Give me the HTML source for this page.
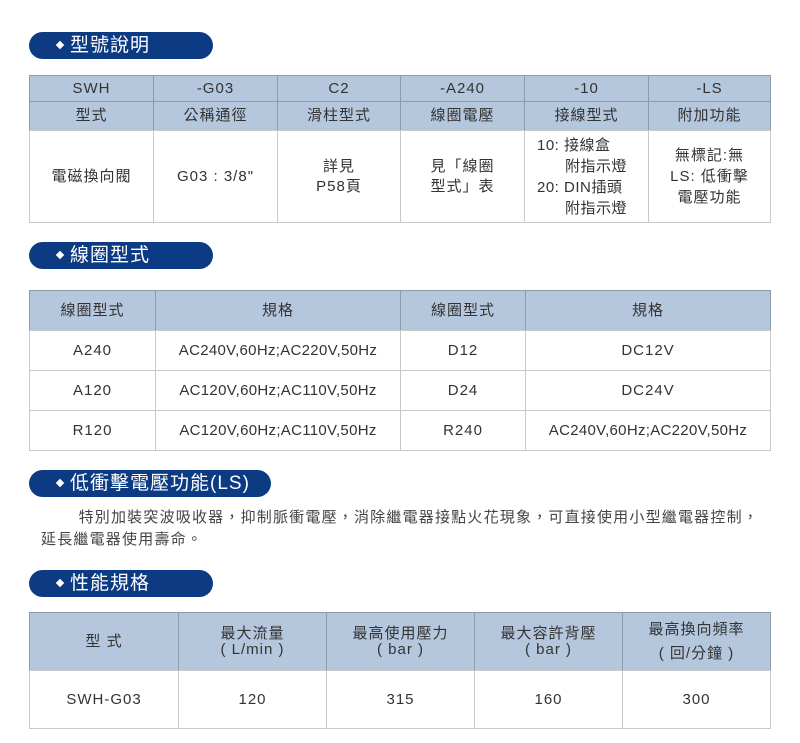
<!DOCTYPE html><html><head><meta charset="utf-8"><style>
body{margin:0;width:800px;height:743px;background:#fff;position:relative;overflow:hidden;font-family:"Liberation Sans","Noto Sans CJK TC",sans-serif;color:#333}
.b{position:absolute;left:29px;height:27px;background:#0c3b83;border-radius:14px;color:#fff;font-size:19px;line-height:27px;padding-left:41px;box-sizing:border-box;letter-spacing:1px}
.b:before{content:"";position:absolute;left:28px;top:10px;width:6px;height:6px;background:#fff;transform:rotate(45deg)}
.c{position:absolute;box-sizing:border-box;border:1px solid #c8c8c8;display:flex;align-items:center;justify-content:center;text-align:center;font-size:15px;line-height:20px;letter-spacing:1px}
.h{background:#b5c7dd;border-color:#8d9aa8}
</style></head><body>
<div class="b" style="top:32px;width:184px">型號說明</div>
<div class="c h" style="left:29px;top:75px;width:125px;height:27px">SWH</div>
<div class="c h" style="left:153px;top:75px;width:125px;height:27px">-G03</div>
<div class="c h" style="left:277px;top:75px;width:124px;height:27px">C2</div>
<div class="c h" style="left:400px;top:75px;width:125px;height:27px">-A240</div>
<div class="c h" style="left:524px;top:75px;width:125px;height:27px">-10</div>
<div class="c h" style="left:648px;top:75px;width:123px;height:27px">-LS</div>
<div class="c h" style="left:29px;top:101px;width:125px;height:30px">型式</div>
<div class="c h" style="left:153px;top:101px;width:125px;height:30px">公稱通徑</div>
<div class="c h" style="left:277px;top:101px;width:124px;height:30px">滑柱型式</div>
<div class="c h" style="left:400px;top:101px;width:125px;height:30px">線圈電壓</div>
<div class="c h" style="left:524px;top:101px;width:125px;height:30px">接線型式</div>
<div class="c h" style="left:648px;top:101px;width:123px;height:30px">附加功能</div>
<div class="c" style="left:29px;top:130px;width:125px;height:93px">電磁換向閥</div>
<div class="c" style="left:153px;top:130px;width:125px;height:93px">G03 : 3/8"</div>
<div class="c" style="left:277px;top:130px;width:124px;height:93px">詳見<br>P58頁</div>
<div class="c" style="left:400px;top:130px;width:125px;height:93px">見「線圈<br>型式」表</div>
<div class="c" style="left:524px;top:130px;width:125px;height:93px;line-height:21px;text-align:left;justify-content:flex-start;padding-left:12px;letter-spacing:0.5px">10: 接線盒<br>&nbsp;&nbsp;&nbsp;&nbsp;&nbsp;&nbsp;附指示燈<br>20: DIN插頭<br>&nbsp;&nbsp;&nbsp;&nbsp;&nbsp;&nbsp;附指示燈</div>
<div class="c" style="left:648px;top:130px;width:123px;height:93px;line-height:21px">無標記:無<br>LS: 低衝擊<br>電壓功能</div>

<div class="b" style="top:242px;width:184px">線圈型式</div>
<div class="c h" style="left:29px;top:290px;width:127px;height:41px">線圈型式</div>
<div class="c h" style="left:155px;top:290px;width:246px;height:41px">規格</div>
<div class="c h" style="left:400px;top:290px;width:126px;height:41px">線圈型式</div>
<div class="c h" style="left:525px;top:290px;width:246px;height:41px">規格</div>
<div class="c" style="left:29px;top:330px;width:127px;height:41px">A240</div>
<div class="c" style="left:155px;top:330px;width:246px;height:41px;letter-spacing:0.3px">AC240V,60Hz;AC220V,50Hz</div>
<div class="c" style="left:400px;top:330px;width:126px;height:41px">D12</div>
<div class="c" style="left:525px;top:330px;width:246px;height:41px">DC12V</div>
<div class="c" style="left:29px;top:370px;width:127px;height:41px">A120</div>
<div class="c" style="left:155px;top:370px;width:246px;height:41px;letter-spacing:0.3px">AC120V,60Hz;AC110V,50Hz</div>
<div class="c" style="left:400px;top:370px;width:126px;height:41px">D24</div>
<div class="c" style="left:525px;top:370px;width:246px;height:41px">DC24V</div>
<div class="c" style="left:29px;top:410px;width:127px;height:41px">R120</div>
<div class="c" style="left:155px;top:410px;width:246px;height:41px;letter-spacing:0.3px">AC120V,60Hz;AC110V,50Hz</div>
<div class="c" style="left:400px;top:410px;width:126px;height:41px">R240</div>
<div class="c" style="left:525px;top:410px;width:246px;height:41px;letter-spacing:0.3px">AC240V,60Hz;AC220V,50Hz</div>

<div class="b" style="top:470px;width:242px">低衝擊電壓功能(LS)</div>
<div style="position:absolute;left:41px;top:507px;width:750px;font-size:15px;line-height:22px;letter-spacing:1.2px;color:#444">&nbsp;&nbsp;&nbsp;&nbsp;&nbsp;&nbsp;&nbsp;特別加裝突波吸收器，抑制脈衝電壓，消除繼電器接點火花現象，可直接使用小型繼電器控制，<br>延長繼電器使用壽命。</div>

<div class="b" style="top:570px;width:184px">性能規格</div>
<div class="c h" style="left:29px;top:612px;width:150px;height:59px">型 式</div>
<div class="c h" style="left:178px;top:612px;width:149px;height:59px;line-height:16px">最大流量<br>( L/min )</div>
<div class="c h" style="left:326px;top:612px;width:149px;height:59px;line-height:16px">最高使用壓力<br>( bar )</div>
<div class="c h" style="left:474px;top:612px;width:149px;height:59px;line-height:16px">最大容許背壓<br>( bar )</div>
<div class="c h" style="left:622px;top:612px;width:149px;height:59px;line-height:24px">最高換向頻率<br>( 回/分鐘 )</div>
<div class="c" style="left:29px;top:670px;width:150px;height:59px">SWH-G03</div>
<div class="c" style="left:178px;top:670px;width:149px;height:59px">120</div>
<div class="c" style="left:326px;top:670px;width:149px;height:59px">315</div>
<div class="c" style="left:474px;top:670px;width:149px;height:59px">160</div>
<div class="c" style="left:622px;top:670px;width:149px;height:59px">300</div>
</body></html>
